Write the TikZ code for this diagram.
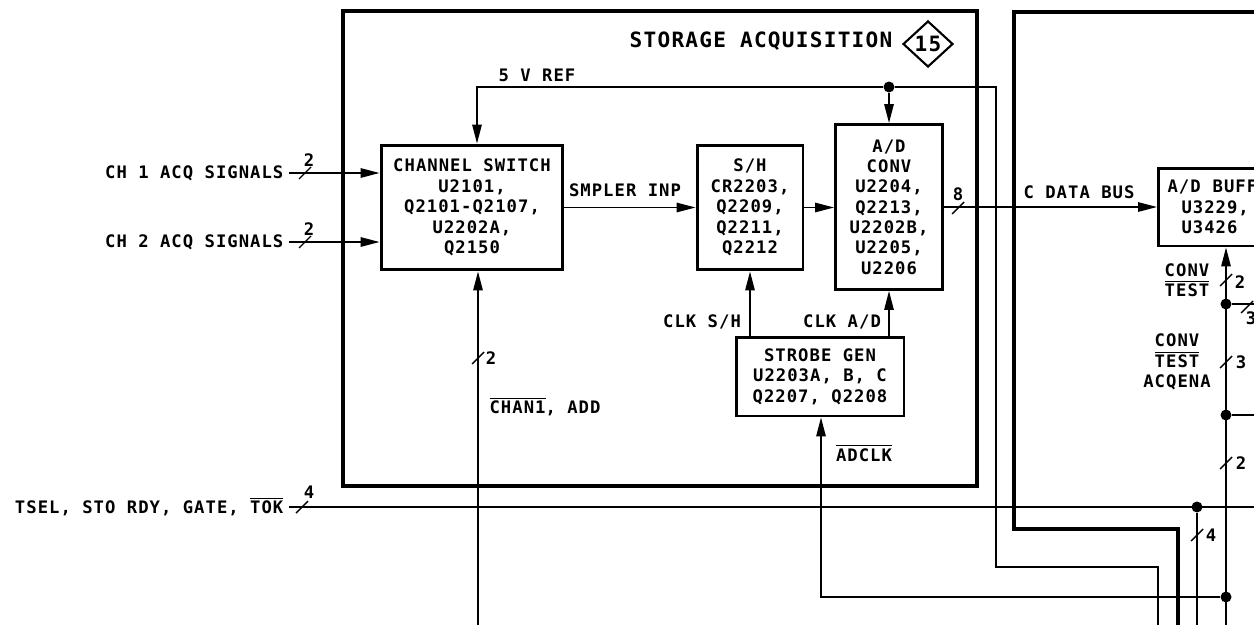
\documentclass[tikz,border=0pt]{standalone}
\usepackage{fontspec}
\setmainfont{DejaVu Sans Mono}[LetterSpace=6]
\usetikzlibrary{arrows.meta,shapes.geometric}

\begin{document}
\begin{tikzpicture}[x=0.02cm,y=-0.02cm,
  wire/.style={line width=0.8pt},
  sig/.style={wire, -{Triangle[length=0.38cm,width=0.19cm]}},
  frame/.style={line width=1.8pt},
  blk/.style={draw, line width=1.7pt, align=center, inner sep=0pt, font=\fontsize{9.8}{11.6}\selectfont\bfseries},
  lbl/.style={inner sep=3pt, align=center, font=\fontsize{9.8}{11.6}\selectfont\bfseries},
  dot/.style={fill, circle, inner sep=0pt, minimum size=0.22cm},
  busmark/.pic={\draw[wire] (-6,6) -- (6,-6);}]
\useasboundingbox (0,0) rectangle (1254,625);
\clip (0,0) rectangle (1254,625);
\draw[frame] (343,11) rectangle (977,486);
\draw[frame] (1265,12) -- (1014,12) -- (1014,529) -- (1178,529) -- (1178,640);
\node[lbl, font=\fontsize{12}{14}\selectfont\bfseries] (title) at (761,41) {STORAGE ACQUISITION};
\node[draw, diamond, line width=1.2pt, inner sep=0pt, minimum width=1.0cm, minimum height=0.92cm, font=\fontsize{12}{14}\selectfont\bfseries] (sect) at (928,44) {15};
\node[blk, minimum width=3.64cm, minimum height=2.5cm] (chsw) at (472,207.5) {CHANNEL SWITCH\\U2101,\\Q2101-Q2107,\\U2202A,\\Q2150};
\node[blk, minimum width=2.12cm, minimum height=2.5cm] (sh) at (750,207.5) {S/H\\CR2203,\\Q2209,\\Q2211,\\Q2212};
\node[blk, minimum width=2.14cm, minimum height=3.3cm] (adc) at (889,207) {A/D\\CONV\\U2204,\\Q2213,\\U2202B,\\U2205,\\U2206};
\node[blk, minimum width=3.36cm, minimum height=1.58cm] (strobe) at (820,376.5) {STROBE GEN\\U2203A, B, C\\Q2207, Q2208};
\node[blk, anchor=west, align=left, inner xsep=0.18cm, text width=3cm, minimum height=1.56cm] (adbuf) at (1157,207) {A/D\hspace*{0.24cm}BUFFER\\\hspace*{0.28cm}U3229,\\\hspace*{0.28cm}U3426};
\node[lbl] (vref) at (537,75) {5 V REF};
\node[lbl] (smpl) at (625,190) {SMPLER INP};
\node[lbl] (clksh) at (702,322) {CLK S/H};
\node[lbl] (clkad) at (842,322) {CLK A/D};
\node[lbl] (adclk) at (864,453) {$\overline{\mbox{ADCLK}}$};
\node[lbl] (chan) at (545,407) {$\overline{\mbox{CHAN1}}$, ADD};
\node[lbl] (cdbus) at (1079,192) {C DATA BUS};
\node[lbl, anchor=east] (ch1) at (289,173) {CH 1 ACQ SIGNALS};
\node[lbl, anchor=east] (ch2) at (289,242) {CH 2 ACQ SIGNALS};
\node[lbl, anchor=east] (tsel) at (289,507) {TSEL, STO RDY, GATE, $\overline{\mbox{TOK}}$};
\node[lbl] (ctla) at (1187,280) {CONV\\$\overline{\mbox{TEST}}$};
\node[lbl] (ctlb) at (1177,362) {CONV\\$\overline{\mbox{TEST}}$\\ACQENA};
\node[lbl] (w1) at (309,160) {2};
\node[lbl] (w2) at (309,229) {2};
\node[lbl] (w3) at (309,492) {4};
\node[lbl] (w4) at (491,358) {2};
\node[lbl] (w5) at (958,194) {8};
\node[lbl] (w6) at (1240,282) {2};
\node[lbl] (w7) at (1251,318) {3};
\node[lbl] (w8) at (1241,362) {3};
\node[lbl] (w9) at (1241,463) {2};
\node[lbl] (w10) at (1211,535) {4};
\node[dot] (refdot) at (889,87) {};
\node[dot] (d1) at (1226,304) {};
\node[dot] (d2) at (1226,415) {};
\node[dot] (d3) at (1226,597) {};
\node[dot] (tokdot) at (1197,507) {};
\coordinate (vrefl) at (477,87);
\coordinate (vrefr) at (996,87);
\coordinate (vrefb) at (996,567);
\coordinate (vrefc) at (1158,567);
\coordinate (vrefe) at (1158,640);
\coordinate (chanb) at (478,640);
\coordinate (adclkc) at (821,597);
\coordinate (busb) at (1226,640);
\coordinate (br1) at (1260,304);
\coordinate (br2) at (1260,415);
\coordinate (tselr) at (1260,507);
\coordinate (tokb) at (1197,640);
\draw[sig] (ch1.east) -- (ch1.east -| chsw.west);
\draw[sig] (ch2.east) -- (ch2.east -| chsw.west);
\draw[sig] (chsw.east) -- (sh.west);
\draw[sig] (sh.east) -- (sh.east -| adc.west);
\draw[sig] (adc.east) -- (adbuf.west);
\draw[sig] (strobe.north -| sh.south) -- (sh.south);
\draw[sig] (strobe.north -| adc.south) -- (adc.south);
\draw[sig] (refdot) -- (refdot |- adc.north);
\draw[sig] (refdot) -- (vrefl) -- (vrefl |- chsw.north);
\draw[wire] (refdot) -- (vrefr) -- (vrefb) -- (vrefc) -- (vrefe);
\draw[sig] (chanb) -- (chanb |- chsw.south);
\draw[sig] (d3) -- (adclkc) -- (adclkc |- strobe.south);
\draw[sig] (busb) -- (busb |- adbuf.south);
\draw[wire] (d1) -- (br1);
\draw[wire] (d2) -- (br2);
\draw[wire] (tsel.east) -- (tselr);
\draw[wire] (tokdot) -- (tokb);
\pic at (305,173) {busmark};
\pic at (305,242) {busmark};
\pic at (302,507) {busmark};
\pic at (478,358) {busmark};
\pic at (958,208) {busmark};
\pic at (1226,280) {busmark};
\pic at (1247,307) {busmark};
\pic at (1226,362) {busmark};
\pic at (1226,463) {busmark};
\pic at (1197,535) {busmark};
\end{tikzpicture}
\end{document}
